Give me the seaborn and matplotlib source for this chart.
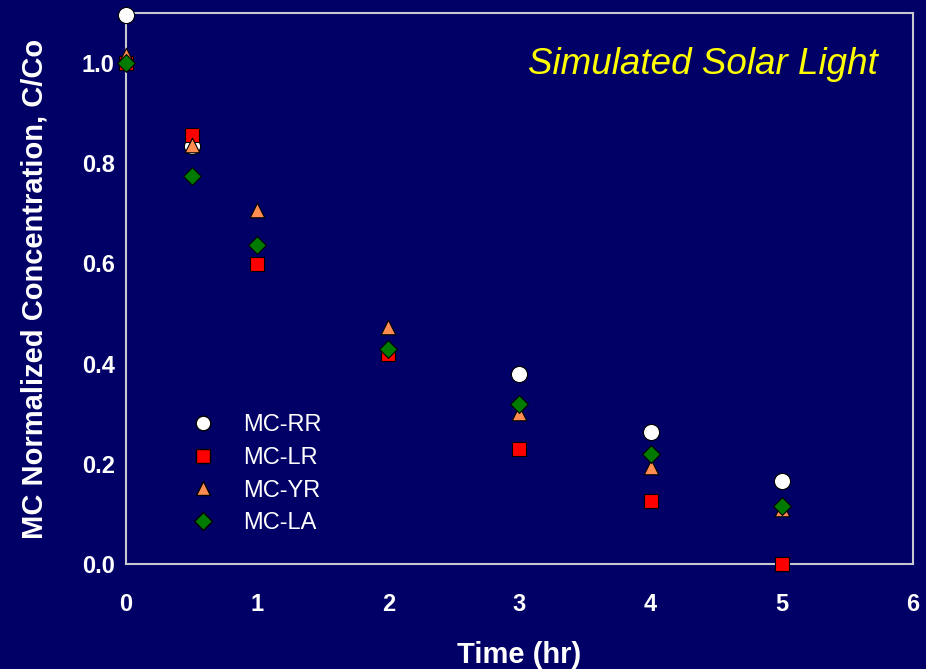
import matplotlib
matplotlib.use("Agg")
import matplotlib.pyplot as plt
import seaborn as sns
import pandas as pd
from matplotlib.lines import Line2D

# Photodegradation of MC dyes under simulated solar light
time_rr = [0, 0.5, 3, 4, 5]
conc_rr = [1.096, 0.834, 0.379, 0.263, 0.166]

time_all = [0, 0.5, 1, 2, 3, 4, 5]
conc_lr = [1.0, 0.856, 0.599, 0.419, 0.230, 0.126, 0.0]
conc_yr = [1.016, 0.836, 0.707, 0.473, 0.301, 0.194, 0.110]
conc_la = [1.0, 0.774, 0.637, 0.429, 0.319, 0.220, 0.116]

series_names = ["MC-RR", "MC-LR", "MC-YR", "MC-LA"]
x_ticks = [0, 1, 2, 3, 4, 5, 6]
y_ticks = [0.0, 0.2, 0.4, 0.6, 0.8, 1.0]

frames = [
    pd.DataFrame({"time": time_rr, "conc": conc_rr, "dye": "MC-RR"}),
    pd.DataFrame({"time": time_all, "conc": conc_lr, "dye": "MC-LR"}),
    pd.DataFrame({"time": time_all, "conc": conc_yr, "dye": "MC-YR"}),
    pd.DataFrame({"time": time_all, "conc": conc_la, "dye": "MC-LA"}),
]
df = pd.concat(frames, ignore_index=True)

bg = "#000066"
axis_col = "#c8c8d0"
styles = {
    "MC-RR": dict(marker="o", color="white", s=135, ms=10.5),
    "MC-LR": dict(marker="s", color="#ff0000", s=95, ms=9.5),
    "MC-YR": dict(marker="^", color="#ff8c50", s=110, ms=10),
    "MC-LA": dict(marker="D", color="#007a00", s=82, ms=9),
}

sns.set_style("white")
plt.rcParams["font.family"] = ["Liberation Sans", "DejaVu Sans"]

fig = plt.figure(figsize=(9.26, 6.69), dpi=100, facecolor=bg)
ax = fig.add_axes([0.136, 0.157, 0.850, 0.8236])
ax.set_facecolor(bg)

for name in series_names:
    st = styles[name]
    sns.scatterplot(data=df[df["dye"] == name], x="time", y="conc", ax=ax,
                    marker=st["marker"], color=st["color"], s=st["s"],
                    edgecolor="black", linewidth=0.8, zorder=3,
                    clip_on=False, legend=False)

ax.set_xlim(0, 6)
ax.set_ylim(0, 1.1)
ax.set_xticks(x_ticks)
ax.set_xticklabels([str(t) for t in x_ticks])
ax.set_yticks(y_ticks)
ax.set_yticklabels([f"{t:.1f}" for t in y_ticks])

for sp in ax.spines.values():
    sp.set_color(axis_col)
    sp.set_linewidth(1.5)
    sp.set_visible(True)

ax.tick_params(axis="both", colors=axis_col, length=8, width=1.5, direction="out",
               labelcolor="white", labelsize=17)
ax.tick_params(axis="x", pad=13)
ax.tick_params(axis="y", pad=0)
for lbl in ax.get_xticklabels() + ax.get_yticklabels():
    lbl.set_fontweight("bold")

ax.set_xlabel("Time (hr)", color="white", fontsize=21, fontweight="bold", labelpad=18)
ax.set_ylabel("MC Normalized Concentration, C/Co", color="white", fontsize=21,
              fontweight="bold", labelpad=24)

ax.text(0.733, 0.907, "Simulated Solar Light", transform=ax.transAxes, color="#ffff00",
        fontsize=26.5, style="italic", ha="center", va="center")

handles = []
for name in series_names:
    st = styles[name]
    handles.append(Line2D([], [], linestyle="none", marker=st["marker"],
                          markerfacecolor=st["color"], markeredgecolor="black",
                          markersize=st["ms"], label=name))
leg = ax.legend(handles=handles, loc="upper left", bbox_to_anchor=(0.041, 0.31),
                frameon=False, fontsize=17, handletextpad=0.7, labelspacing=0.45,
                labelcolor="white")

fig.savefig("out.png", dpi=100, facecolor=bg)
